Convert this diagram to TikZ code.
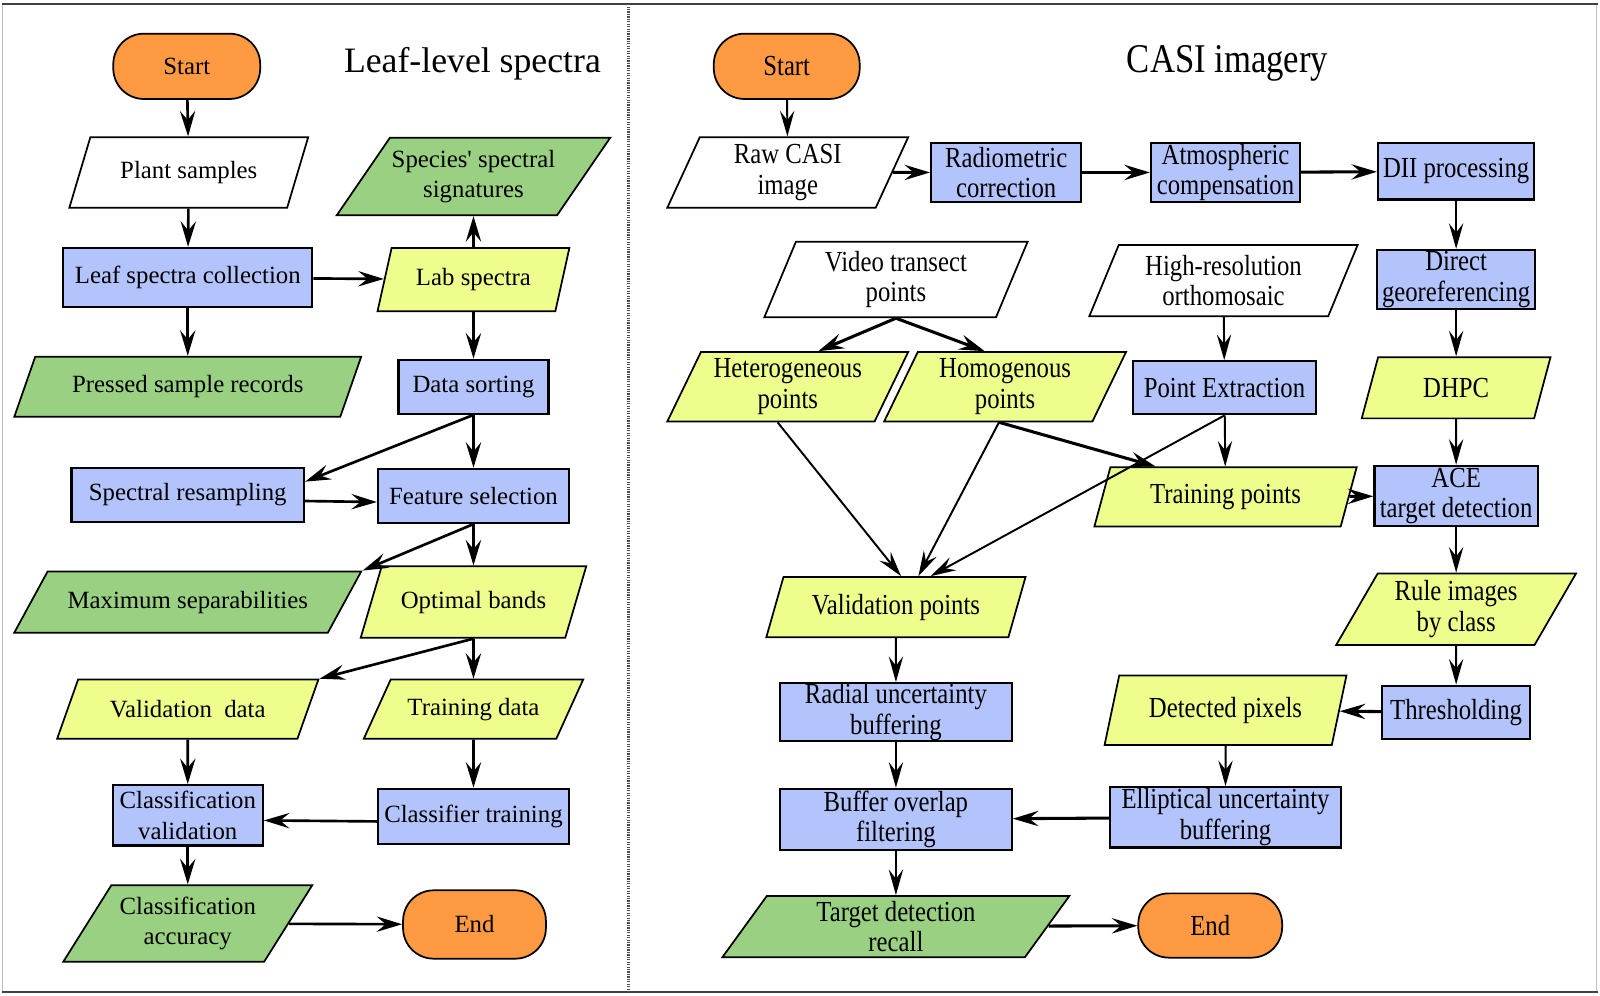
\documentclass[tikz,border=0pt]{standalone}
\usepackage{fontspec}
\setmainfont{Liberation Serif}
\newfontfamily\casifont[FakeStretch=0.85]{Liberation Serif}
\usetikzlibrary{arrows.meta, shapes.geometric}

\definecolor{termorange}{RGB}{253,154,66}
\definecolor{procblue}{RGB}{179,195,252}
\definecolor{datayellow}{RGB}{238,253,140}
\definecolor{outgreen}{RGB}{154,208,129}

\tikzset{
    sz/.style 2 args={minimum width=#1pt, minimum height=#2pt},
    leaftext/.style={font=\fontsize{24.3}{30}\selectfont},
    casitext/.style={font=\casifont\fontsize{28.5}{30}\selectfont},
    procbox/.style={draw, line width=2.2pt, fill=procblue, rectangle, align=center, inner sep=0pt},
    iodata/.style={draw, line width=1.7pt, trapezium, trapezium left angle=#1, trapezium right angle=180-#1,
        trapezium stretches body, align=center, inner sep=0pt},
    termbox/.style={draw, line width=1.7pt, fill=termorange, rectangle, rounded corners=30pt, inner sep=0pt},
    flow/.style={-{Stealth[length=25pt, width=15pt, inset=9pt]}, line width=2.6pt},
    flowthin/.style={-{Stealth[length=25pt, width=14pt, inset=9pt]}, line width=1.9pt},
    flowwide/.style={-{Stealth[length=25pt, width=15pt, inset=9pt]}, line width=3pt}
}

\begin{document}
\begin{tikzpicture}[x=1pt, y=-1pt]
                        \useasboundingbox (0,0) rectangle (1568,976);
                        \draw[line width=1pt, black!25] (2,4) rectangle (1565,972);
                        \draw[line width=2.4pt, black!75] (2,4) -- (1566,4) (2,972) -- (1566,972);
                        \draw[line width=3.5pt, black!70, dash pattern=on 1.2pt off 1.2pt] (616,4) -- (616,972);

                        \node[leaftext, font=\fontsize{35}{40}\selectfont] (titleL) at (463,62) {Leaf-level spectra};
                        \node[leaftext, termbox, sz={144}{64}] (startL) at (183,65) {Start};
                        \node[leaftext, iodata=47, sz={234}{69}, fill=white] (plant) at (185,169) {Plant samples};
                        \node[leaftext, iodata=45, sz={268}{76}, fill=outgreen] (species) at (464,173) {Species\textquotesingle\ spectral\\signatures};
                        \node[leaftext, procbox, sz={244}{58}] (leafcol) at (184,272) {Leaf spectra collection};
                        \node[leaftext, iodata=58, sz={188}{62}, fill=datayellow] (lab) at (464,274) {Lab spectra};
                        \node[leaftext, iodata=47, sz={340}{59}, fill=outgreen] (pressed) at (184,379) {Pressed sample records};
                        \node[leaftext, procbox, sz={147}{53}] (datasort) at (464,379) {Data sorting};
                        \node[leaftext, procbox, sz={228}{53}] (specres) at (184,485) {Spectral resampling};
                        \node[leaftext, procbox, sz={187}{53}] (featsel) at (464,486) {Feature selection};
                        \node[leaftext, iodata=34, sz={340}{60}, fill=outgreen] (maxsep) at (184,590) {Maximum separabilities};
                        \node[leaftext, iodata=47, sz={221}{70}, fill=datayellow] (optbands) at (464,590) {Optimal bands};
                        \node[leaftext, iodata=40, sz={256}{58}, fill=datayellow] (valdata) at (184,695) {Validation\ \ data};
                        \node[leaftext, iodata=40, sz={215}{58}, fill=datayellow] (traindata) at (464,695) {Training data};
                        \node[leaftext, procbox, sz={147}{59}] (classval) at (184,799) {Classification\\validation};
                        \node[leaftext, procbox, sz={187}{54}] (classtrain) at (464,800) {Classifier training};
                        \node[leaftext, iodata=48, sz={244}{75}, fill=outgreen] (classacc) at (184,905) {Classification\\accuracy};
                        \node[leaftext, termbox, sz={140}{67}] (endL) at (465,906) {End};
                        \draw[flow] (startL) -- (plant);
                        \draw[flow] (plant) -- (leafcol);
                        \draw[flow] (leafcol) -- (lab);
                        \draw[flow] (lab) -- (species);
                        \draw[flow] (leafcol) -- (pressed);
                        \draw[flow] (lab) -- (datasort);
                        \draw[flow] (datasort) -- (featsel);
                        \draw[flow] (datasort.south) -- ([yshift=13pt]specres.east);
                        \draw[flow] ([yshift=-6pt]specres.east) -- ([yshift=-6pt]featsel.west);
                        \draw[flow] (featsel.south) -- (maxsep.top right corner);
                        \draw[flow] (featsel) -- (optbands);
                        \draw[flow] (optbands.south) -- (valdata.top right corner);
                        \draw[flow] (optbands) -- (traindata);
                        \draw[flow] (valdata) -- (classval);
                        \draw[flow] (traindata) -- (classtrain);
                        \draw[flow] ([yshift=-5pt]classtrain.west) -- ([yshift=-5pt]classval.east);
                        \draw[flow] (classval) -- (classacc);
                        \draw[flow] (classacc) -- (endL);

                        \node[casitext, font=\casifont\fontsize{40}{44}\selectfont] (titleR) at (1203,62) {CASI imagery};
                        \node[casitext, termbox, sz={143}{64}] (startR) at (771,65) {Start};
                        \node[casitext, iodata=60, sz={236}{69}, fill=white] (raw) at (772,169) {Raw CASI\\image};
                        \node[casitext, procbox, sz={147}{58}] (radio) at (986,169) {Radiometric\\correction};
                        \node[casitext, procbox, sz={146}{58}] (atmos) at (1201,169) {Atmospheric\\compensation};
                        \node[casitext, procbox, sz={153}{55}] (dii) at (1427,168) {DII processing};
                        \node[casitext, procbox, sz={155}{58}] (direct) at (1427,274) {Direct\\georeferencing};
                        \node[casitext, iodata=61, sz={258}{74}, fill=white] (video) at (878,274) {Video transect\\points};
                        \node[casitext, iodata=60, sz={263}{70}, fill=white] (highres) at (1199,275) {High-resolution\\orthomosaic};
                        \node[casitext, iodata=59, sz={236}{68}, fill=datayellow] (hetero) at (772,379) {Heterogeneous\\points};
                        \node[casitext, iodata=59, sz={237}{68}, fill=datayellow] (homo) at (985,379) {Homogenous\\points};
                        \node[casitext, procbox, sz={179}{52}] (ptext) at (1200,380) {Point Extraction};
                        \node[casitext, iodata=50, sz={185}{60}, fill=datayellow] (dhpc) at (1427,380) {DHPC};
                        \node[casitext, iodata=58, sz={257}{58}, fill=datayellow] (trainpts) at (1201,487) {Training points};
                        \node[casitext, procbox, sz={160}{59}] (ace) at (1427,486) {ACE\\target detection};
                        \node[casitext, iodata=57, sz={254}{59}, fill=datayellow] (valpts) at (878,595) {Validation points};
                        \node[casitext, iodata=54, sz={235}{70}, fill=datayellow] (rule) at (1427,597) {Rule images\\by class};
                        \node[casitext, procbox, sz={227}{57}] (radial) at (878,698) {Radial uncertainty\\buffering};
                        \node[casitext, iodata=61, sz={237}{68}, fill=datayellow] (detected) at (1201,696) {Detected pixels};
                        \node[casitext, procbox, sz={145}{52}] (thresh) at (1427,698) {Thresholding};
                        \node[casitext, procbox, sz={227}{60}] (bufover) at (878,803) {Buffer overlap\\filtering};
                        \node[casitext, procbox, sz={226}{59}] (ellip) at (1201,801) {Elliptical uncertainty\\buffering};
                        \node[casitext, iodata=49, sz={340}{60}, fill=outgreen] (tdr) at (878,908) {Target detection\\recall};
                        \node[casitext, termbox, sz={141}{63}] (endR) at (1186,907) {End};
                        \draw[flowthin] (startR) -- (raw);
                        \draw[flowthin] (dii) -- (direct);
                        \draw[flowthin] (direct) -- (dhpc);
                        \draw[flowthin] (dhpc) -- (ace);
                        \draw[flowthin] (ace) -- (rule);
                        \draw[flowthin] (rule) -- (thresh);
                        \draw[flowthin] (detected) -- (ellip);
                        \draw[flowthin] (valpts) -- (radial);
                        \draw[flowthin] (radial) -- (bufover);
                        \draw[flowthin] (bufover) -- (tdr);
                        \draw[flowthin] (highres) -- (ptext);
                        \draw[flowthin] (ptext) -- (trainpts);
                        \draw[flowthin] ([xshift=-10pt]hetero.south) -- ([xshift=5pt]valpts.north);
                        \draw[flowthin] ([xshift=-6pt]homo.south) -- ([xshift=22pt]valpts.north);
                        \draw[flowthin] (ptext.south) -- ([xshift=34pt]valpts.north);
                        \draw[flowwide] (raw) -- (radio);
                        \draw[flowwide] (radio) -- (atmos);
                        \draw[flowwide] (atmos) -- (dii);
                        \draw[flowwide] (trainpts) -- (ace);
                        \draw[flowwide] (thresh) -- (detected);
                        \draw[flowwide] (ellip) -- (bufover);
                        \draw[flowwide] (tdr) -- (endR);
                        \draw[flowwide] (video.south) -- ([xshift=30pt]hetero.north);
                        \draw[flowwide] (video.south) -- ([xshift=-20pt]homo.north);
                        \draw[flowwide] ([xshift=-6pt]homo.south) -- ([xshift=45pt]trainpts.top left corner);
                    \end{tikzpicture}
\end{document}
